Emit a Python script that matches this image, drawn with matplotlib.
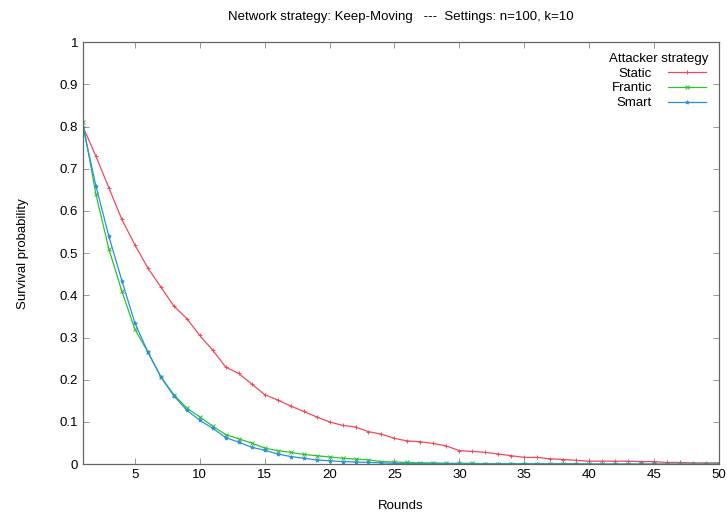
import numpy as np
import matplotlib.pyplot as plt

plt.rcParams['font.family'] = ['Liberation Sans', 'DejaVu Sans']

rounds = np.arange(1, 51)

static = [0.80, 0.73, 0.655, 0.58, 0.52, 0.465, 0.42, 0.375, 0.345, 0.305,
          0.27, 0.23, 0.215, 0.19, 0.165, 0.152, 0.138, 0.125, 0.112, 0.100,
          0.092, 0.088, 0.077, 0.071, 0.061, 0.055, 0.053, 0.049, 0.043, 0.032,
          0.030, 0.028, 0.024, 0.020, 0.016, 0.016, 0.0125, 0.011, 0.009, 0.007,
          0.007, 0.007, 0.007, 0.006, 0.006, 0.004, 0.004, 0.003, 0.003, 0.003]

frantic = [0.81, 0.64, 0.51, 0.41, 0.32, 0.266, 0.207, 0.165, 0.133, 0.112,
           0.090, 0.070, 0.060, 0.050, 0.038, 0.032, 0.028, 0.023, 0.020, 0.017,
           0.014, 0.012, 0.010, 0.006, 0.005, 0.004, 0.003, 0.003, 0.002, 0.002,
           0.002, 0.001, 0.001, 0.001, 0.001, 0.001, 0.001, 0.001, 0.001, 0.0,
           0.0, 0.0, 0.0, 0.0, 0.0, 0.0, 0.0, 0.0, 0.0, 0.0]

smart = [0.80, 0.66, 0.54, 0.435, 0.335, 0.266, 0.207, 0.162, 0.128, 0.104,
         0.085, 0.063, 0.052, 0.040, 0.033, 0.024, 0.018, 0.014, 0.010, 0.008,
         0.006, 0.005, 0.004, 0.003, 0.002, 0.001, 0.001, 0.001, 0.001, 0.001,
         0.0, 0.0, 0.0, 0.0, 0.0, 0.0, 0.0, 0.0, 0.0, 0.0,
         0.0, 0.0, 0.0, 0.0, 0.0, 0.0, 0.0, 0.0, 0.0, 0.0]

yticks = [0, 0.1, 0.2, 0.3, 0.4, 0.5, 0.6, 0.7, 0.8, 0.9, 1]
ylabels = ['0', '0.1', '0.2', '0.3', '0.4', '0.5', '0.6', '0.7', '0.8', '0.9', '1']
xticks = [5, 10, 15, 20, 25, 30, 35, 40, 45, 50]

fig = plt.figure(figsize=(7.27, 5.14), dpi=100)
ax = fig.add_axes([0.114, 0.097, 0.875, 0.821])

ax.plot(rounds, static, color='#f04a5a', lw=0.9, marker='+', ms=3.5, mew=0.7, label='Static')
ax.plot(rounds, frantic, color='#30c030', lw=0.9, marker='x', ms=2.5, mew=0.7, label='Frantic')
ax.plot(rounds, smart, color='#2a90e0', lw=0.9, marker='*', ms=3, mew=0.5, label='Smart')

ax.set_xlim(1, 50)
ax.set_ylim(0, 1)
ax.set_xticks(xticks)
ax.set_yticks(yticks)
ax.set_yticklabels(ylabels)
ax.tick_params(direction='in', top=True, right=True, labelsize=9.5,
               color='#888888', length=4, width=0.6)
for s in ax.spines.values():
    s.set_color('#666666')
    s.set_linewidth(0.9)

ax.set_xlabel('Rounds', fontsize=9.5, labelpad=14)
ax.set_ylabel('Survival probability', fontsize=9.5, labelpad=22)
ax.set_title('Network strategy: Keep-Moving   ---  Settings: n=100, k=10',
             fontsize=9.5, pad=16)

leg = ax.legend(title='Attacker strategy', loc='upper right', frameon=False,
                markerfirst=False, fontsize=9.5, title_fontsize=9.5,
                handlelength=2.9, handletextpad=1.2, borderaxespad=0.4,
                labelspacing=0.2)

fig.savefig('out.png', dpi=100)
